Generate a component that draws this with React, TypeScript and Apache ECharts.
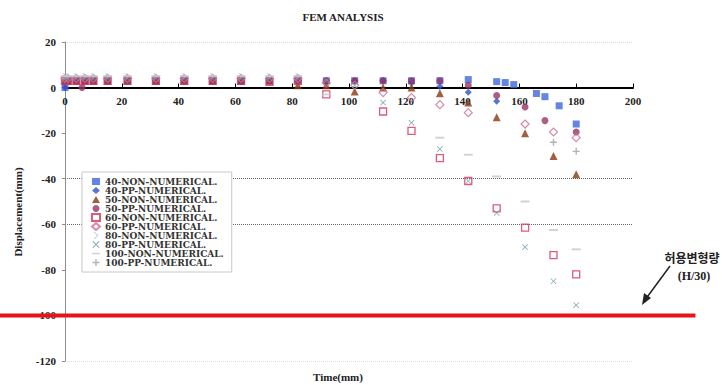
import React, { useEffect, useRef } from "react";
import * as echarts from "echarts";

// ---- data ----
const TITLE = "FEM ANALYSIS";
const X_NAME = "Time(mm)";
const Y_NAME = "Displacement(mm)";
const LIMIT_LABEL_1 = "허용변형량";
const LIMIT_LABEL_2 = "(H/30)";
const LIMIT_VALUE = -100;

const seriesNames = [
  "40-NON-NUMERICAL.",
  "40-PP-NUMERICAL.",
  "50-NON-NUMERICAL.",
  "50-PP-NUMERICAL.",
  "60-NON-NUMERICAL.",
  "60-PP-NUMERICAL.",
  "80-NON-NUMERICAL.",
  "80-PP-NUMERICAL.",
  "100-NON-NUMERICAL.",
  "100-PP-NUMERICAL.",
];

const s40NonX = [0, 1, 4, 7, 10, 15, 22, 32, 42, 52, 62, 72, 82, 92, 102, 112, 122, 132, 142, 152, 155, 158, 166, 169, 174, 180];
const s40NonY = [0, 3, 3, 3, 3, 3, 3, 3, 3, 3, 3, 3, 3, 3, 3, 3, 3, 3, 3.5, 2.6, 2.2, 1.3, -2.6, -4, -8, -16];

const s40PpX = [0, 1, 4, 7, 10, 15, 22, 32, 42, 52, 62, 72, 82, 92, 102, 112, 122, 132, 142, 152];
const s40PpY = [0, 3, 3, 3, 3, 3, 3, 3, 3, 3, 3, 3, 3, 3, 3, 3, 2, 0.5, -2, -6];

const s50NonX = [0, 1, 4, 7, 10, 15, 22, 32, 42, 52, 62, 72, 82, 92, 102, 112, 122, 132, 142, 152, 162, 172, 180];
const s50NonY = [3, 3, 3, 3, 3, 3, 3, 3, 3, 3, 3, 3, 1, 1, -1.7, 0, 0, -2.5, -6.5, -13, -20, -30, -38];

const s50PpX = [0, 1, 4, 6, 7, 10, 15, 22, 32, 42, 52, 62, 72, 82, 92, 102, 112, 122, 132, 142, 152, 162, 169, 180];
const s50PpY = [3, 3, 3, 0, 3, 3, 3, 3, 3, 3, 3, 3, 3, 3, 3, 3, 3, 3, 3, 1, -3.5, -8.5, -14.5, -19.5];

const s60NonX = [0, 1, 4, 7, 10, 15, 22, 32, 42, 52, 62, 72, 82, 92, 112, 122, 132, 142, 152, 162, 172, 180];
const s60NonY = [3, 3, 3, 3, 3, 3, 3, 3, 3, 3, 3, 2.5, 3, -3, -10.5, -19, -31, -41, -53, -61.5, -73.5, -82];

const s60PpX = [0, 1, 4, 7, 10, 15, 22, 32, 42, 52, 62, 72, 82, 92, 102, 112, 122, 132, 142, 162, 172, 180];
const s60PpY = [4, 4, 4, 4, 4, 4, 4, 4, 4, 4, 4, 4, 4, 2, 1, -2.2, -4.4, -7.5, -11, -16, -19.5, -22];

const s80NonX = [0, 1, 4, 7, 10, 15, 22, 32, 42, 52, 62, 72, 82];
const s80NonY = [5, 5, 5, 5, 5, 5, 5, 5, 5, 5, 5, 5, 5];

const s80PpX = [0, 1, 4, 7, 10, 15, 22, 32, 42, 52, 62, 72, 82, 92, 102, 112, 122, 132, 142, 152, 162, 172, 180];
const s80PpY = [4, 4, 4, 4, 4, 4, 4, 4, 4, 4, 4, 4, 4, 3, 1, -6.6, -15.4, -27, -41, -55, -70, -85, -95.5];

const s100NonX = [0, 1, 4, 7, 10, 15, 22, 32, 42, 52, 62, 72, 82, 92, 132, 142, 152, 162, 172, 180];
const s100NonY = [5, 5, 5, 5, 5, 5, 5, 5, 5, 5, 5, 5, 5, -3, -22, -29.5, -39, -50, -62.5, -71];

const s100PpX = [172, 180];
const s100PpY = [-24, -28];

const seriesX = [s40NonX, s40PpX, s50NonX, s50PpX, s60NonX, s60PpX, s80NonX, s80PpX, s100NonX, s100PpX];
const seriesY = [s40NonY, s40PpY, s50NonY, s50PpY, s60NonY, s60PpY, s80NonY, s80PpY, s100NonY, s100PpY];

const X_MIN = 0;
const X_MAX = 200;
const X_STEP = 20;
const Y_MIN = -120;
const Y_MAX = 20;
const Y_STEP = 20;

// ---- styles ----
const SERIF = "'Liberation Serif', 'Times New Roman', serif";
const CROSS = "path://M0,1L1,0L5,4L9,0L10,1L6,5L10,9L9,10L5,6L1,10L0,9L4,5Z";
const PLUS = "path://M4,0H6V4H10V6H6V10H4V6H0V4H4Z";
const DASH = "path://M0,0H10V2H0Z";
const CHEVRON = "path://M0,0L2,0L7,5L2,10L0,10L5,5Z";

const seriesStyles: any[] = [
  { symbol: "rect", size: 7, item: { color: "#3f67dc" } },
  { symbol: "diamond", size: 7, item: { color: "#3450c4" } },
  { symbol: "triangle", size: 8, item: { color: "#8a3a12" } },
  { symbol: "circle", size: 7, item: { color: "#993366" } },
  { symbol: "rect", size: 7, item: { color: "rgba(255,255,255,0)", borderColor: "#d2335a", borderWidth: 1.3 } },
  { symbol: "diamond", size: 8, item: { color: "rgba(255,255,255,0)", borderColor: "#cc6f92", borderWidth: 1.2 } },
  { symbol: CHEVRON, size: 6, item: { color: "#a9c4cc" } },
  { symbol: CROSS, size: 6, item: { color: "#6a9aa6" } },
  { symbol: DASH, size: [9, 2], item: { color: "#c8c8c8" } },
  { symbol: PLUS, size: 7, item: { color: "#a0a0a0" } },
];

export default function App() {
  const ref = useRef<HTMLDivElement>(null);

  useEffect(() => {
    if (!ref.current) return;
    const chart = echarts.init(ref.current, null, { renderer: "svg" });

    const series = seriesNames.map((name, i) => ({
      name,
      type: "scatter",
      symbol: seriesStyles[i].symbol,
      symbolSize: seriesStyles[i].size,
      itemStyle: seriesStyles[i].item,
      data: seriesX[i].map((x, k) => [x, seriesY[i][k]]),
      z: 2 + i,
    }));

    const option: any = {
      animation: false,
      backgroundColor: "#ffffff",
      title: {
        text: TITLE,
        left: 338,
        top: 6,
        textAlign: "center",
        textStyle: { fontFamily: SERIF, fontWeight: "bold", fontSize: 11, color: "#222" },
      },
      legend: {
        orient: "vertical",
        left: 82,
        top: 172,
        padding: [5, 8, 5, 9],
        itemWidth: 8,
        itemHeight: 7,
        itemGap: 0,
        backgroundColor: "#ffffff",
        borderColor: "#c8c8c8",
        borderWidth: 1,
        borderRadius: 0,
        textStyle: { fontFamily: "DejaVu Serif", fontWeight: "bold", fontSize: 9, color: "#333", lineHeight: 8, height: 8 },
        data: seriesNames,
      },
      grid: { left: 65, right: 93, top: 42, bottom: 24, containLabel: false },
      xAxis: {
        type: "value",
        min: X_MIN,
        max: X_MAX,
        interval: X_STEP,
        position: "bottom",
        offset: 0,
        axisLine: { show: true, onZero: false, lineStyle: { color: "#000", width: 2 } },
        axisTick: { show: true, inside: true, length: 4, lineStyle: { color: "#000" } },
        axisLabel: { fontFamily: SERIF, fontWeight: "bold", fontSize: 11, color: "#222", margin: 8 },
        splitLine: { show: false },
      },
      yAxis: {
        type: "value",
        min: Y_MIN,
        max: Y_MAX,
        interval: Y_STEP,
        axisLine: { show: true, lineStyle: { color: "#8c8c8c", width: 1 } },
        axisTick: { show: true, length: 3, lineStyle: { color: "#8c8c8c" } },
        axisLabel: { fontFamily: SERIF, fontWeight: "bold", fontSize: 11, color: "#222", margin: 9 },
        splitLine: {
          show: true,
          lineStyle: {
            type: "dotted",
            width: 1,
            color: ["#dcdcdc", "rgba(0,0,0,0)", "rgba(0,0,0,0)", "#666", "#666", "rgba(0,0,0,0)", "rgba(0,0,0,0)", "#dcdcdc"],
          },
        },
      },
      series,
    };

    chart.setOption(option);

    // move the x axis (line, ticks and labels) up to the zero line
    const yZero = chart.convertToPixel({ yAxisIndex: 0 }, 0) as number;
    const yBottom = chart.convertToPixel({ yAxisIndex: 0 }, Y_MIN) as number;
    chart.setOption({ xAxis: { offset: -(yBottom - yZero) } });

    const yLimit = chart.convertToPixel({ yAxisIndex: 0 }, LIMIT_VALUE) as number;
    const xEnd = chart.convertToPixel({ xAxisIndex: 0 }, 222) as number;

    chart.setOption({
      graphic: [
        {
          type: "line",
          z: 100,
          shape: { x1: 0, y1: yLimit, x2: xEnd, y2: yLimit },
          style: { stroke: "#e8141c", lineWidth: 4 },
        },
        {
          type: "line",
          z: 100,
          shape: { x1: 670, y1: 266, x2: 645, y2: 300 },
          style: { stroke: "#222", lineWidth: 1.5 },
        },
        {
          type: "polygon",
          z: 100,
          shape: { points: [[642, 305], [651, 298], [644, 293]] },
          style: { fill: "#222" },
        },
        {
          type: "text",
          z: 100,
          x: 692,
          y: 257,
          style: {
            text: LIMIT_LABEL_1,
            fill: "#222",
            font: "bold 12px 'Noto Sans CJK KR', sans-serif",
            textAlign: "center",
            textVerticalAlign: "middle",
          },
        },
        {
          type: "text",
          z: 100,
          x: 694,
          y: 276,
          style: {
            text: LIMIT_LABEL_2,
            fill: "#222",
            font: "bold 12px 'Liberation Serif', serif",
            textAlign: "center",
            textVerticalAlign: "middle",
          },
        },
        {
          type: "text",
          z: 100,
          x: 338,
          y: 377,
          style: {
            text: X_NAME,
            fill: "#222",
            font: "bold 11px 'Liberation Serif', serif",
            textAlign: "center",
            textVerticalAlign: "middle",
          },
        },
        {
          type: "text",
          z: 100,
          x: 18,
          y: 212,
          rotation: Math.PI / 2,
          style: {
            text: Y_NAME,
            fill: "#222",
            font: "bold 11px 'Liberation Serif', serif",
            textAlign: "center",
            textVerticalAlign: "middle",
          },
        },
      ],
    });

    return () => {
      chart.dispose();
    };
  }, []);

  return (
    <div
      ref={ref}
      style={{ position: "absolute", left: 0, top: 0, width: 726, height: 385, background: "#fff" }}
    />
  );
}
